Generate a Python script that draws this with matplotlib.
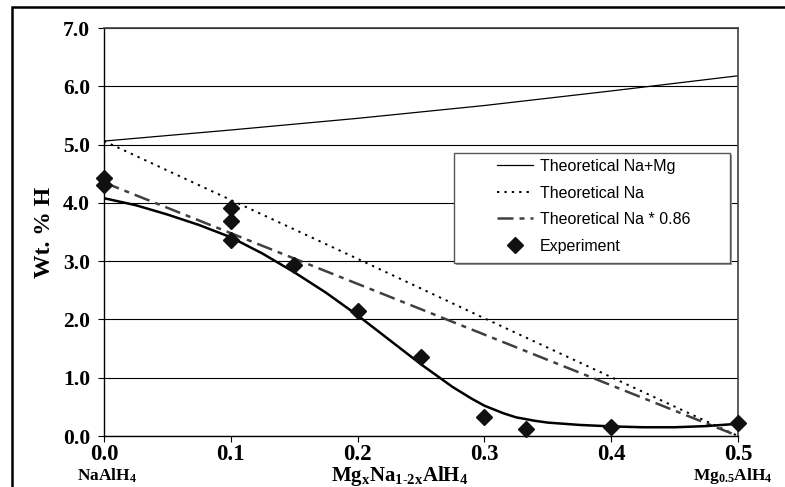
import matplotlib
matplotlib.use('Agg')
import matplotlib.pyplot as plt
from matplotlib.patches import Rectangle

plt.rcParams['mathtext.fontset'] = 'custom'
plt.rcParams['mathtext.bf'] = 'Liberation Serif:bold'
plt.rcParams['mathtext.rm'] = 'Liberation Serif:bold'

# x in Mg_xNa_(1-2x)AlH4
theo_x = [0.0, 0.1, 0.2, 0.3, 0.4, 0.5]
theo_namg = [5.06, 5.25, 5.45, 5.67, 5.92, 6.18]
theo_na = [5.06, 4.05, 3.04, 2.02, 1.01, 0.0]
theo_na86 = [4.35, 3.48, 2.61, 1.74, 0.87, 0.0]

exp_x = [0.0, 0.0, 0.1, 0.1, 0.1, 0.15, 0.2, 0.25, 0.3, 0.333, 0.4, 0.5]
exp_y = [4.42, 4.30, 3.92, 3.69, 3.36, 2.93, 2.14, 1.36, 0.32, 0.12, 0.16, 0.22]

# smooth trend through the experiment points
fit_x = [0.0, 0.025, 0.05, 0.075, 0.1, 0.125, 0.15, 0.175, 0.2, 0.225, 0.25,
         0.275, 0.29, 0.3, 0.315, 0.325, 0.34, 0.35, 0.375, 0.4, 0.425, 0.45,
         0.475, 0.5]
fit_y = [4.08, 3.96, 3.80, 3.62, 3.41, 3.13, 2.81, 2.46, 2.07, 1.65, 1.23,
         0.84, 0.64, 0.52, 0.39, 0.32, 0.26, 0.23, 0.19, 0.165, 0.15, 0.15,
         0.17, 0.21]

x_ticks = [0.0, 0.1, 0.2, 0.3, 0.4, 0.5]
y_ticks = [0.0, 1.0, 2.0, 3.0, 4.0, 5.0, 6.0, 7.0]

W, H = 785, 487
fig = plt.figure(figsize=(W / 100, H / 100), dpi=100)
ax = fig.add_axes([104 / W, 1 - 436 / H, (738 - 104) / W, (436 - 28) / H])

ax.plot(theo_x, theo_namg, color='black', lw=0.9, label='Theoretical Na+Mg')
ax.plot(theo_x, theo_na, color='black', lw=1.4, linestyle=(0, (1.2, 2.6)),
        label='Theoretical Na')
ax.plot(theo_x, theo_na86, color='#404040', lw=1.8,
        linestyle=(0, (6.4, 2.4, 2, 2.4)), label='Theoretical Na * 0.86')
ax.plot(fit_x, fit_y, color='black', lw=1.8, label='_nolegend_')
ax.plot(exp_x, exp_y, linestyle='none', marker='D', ms=8, color='#111111',
        label='Experiment', clip_on=False, zorder=5)

ax.set_xlim(0, 0.5)
ax.set_ylim(0, 7)
ax.set_xticks(x_ticks)
ax.set_yticks(y_ticks)
ax.set_xticklabels([f'{v:.1f}' for v in x_ticks])
ax.set_yticklabels([f'{v:.1f}' for v in y_ticks])
ax.yaxis.grid(True, color='black', lw=0.8)
ax.set_axisbelow(True)
ax.tick_params(direction='out', length=4, width=0.8, colors='black')
ax.tick_params(axis='y', pad=6)
ax.tick_params(axis='x', pad=2)
for lab in ax.get_yticklabels():
    lab.set_fontfamily('Liberation Serif')
    lab.set_fontweight('bold')
    lab.set_fontsize(15.5)
for lab in ax.get_xticklabels():
    lab.set_fontfamily('Liberation Serif')
    lab.set_fontweight('bold')
    lab.set_fontsize(16.5)

for s in ['left', 'bottom']:
    ax.spines[s].set_color('black')
    ax.spines[s].set_linewidth(1.0)
for s in ['top', 'right']:
    ax.spines[s].set_color('#404040')
    ax.spines[s].set_linewidth(1.2)

ax.set_ylabel('Wt. % H', fontfamily='Liberation Serif', fontweight='bold',
              fontsize=17, labelpad=6)

# legend with an Excel-like box
box_l, box_r, box_t, box_b = 454, 730, 153, 263
shadow = Rectangle(((box_l + 2) / W, 1 - (box_b + 2) / H),
                   (box_r - box_l) / W, (box_b - box_t) / H,
                   transform=fig.transFigure, facecolor='#9a9a9a',
                   edgecolor='none', zorder=7, clip_on=False)
box = Rectangle((box_l / W, 1 - box_b / H),
                (box_r - box_l) / W, (box_b - box_t) / H,
                transform=fig.transFigure, facecolor='white',
                edgecolor='#555555', lw=1.0, zorder=8, clip_on=False)
ax.add_patch(shadow)
ax.add_patch(box)
leg = ax.legend(frameon=False, loc='upper left',
                bbox_to_anchor=(497 / W, 1 - 159 / H),
                bbox_transform=fig.transFigure, borderpad=0, borderaxespad=0,
                handlelength=2.25, handletextpad=0.45, labelspacing=0.72,
                prop={'family': 'Liberation Sans', 'size': 11.5})
leg.set_zorder(10)

# composition labels under the axis
fig.text(107 / W, 1 - 476 / H, r'$\mathbf{NaAlH_4}$', ha='center', va='center',
         fontsize=12.5)
fig.text(400 / W, 1 - 476 / H, r'$\mathbf{Mg_xNa_{1\text{-}2x}AlH_4}$',
         ha='center', va='center', fontsize=15)
fig.text(733 / W, 1 - 476 / H, r'$\mathbf{Mg_{0.5}AlH_4}$', ha='center',
         va='center', fontsize=12.5)

# outer frame of the original figure
fig.patches.append(Rectangle((12 / W, -0.1), 1.2, 1 - 6.5 / H + 0.1,
                             transform=fig.transFigure, fill=False,
                             edgecolor='black', lw=1.8))

fig.savefig('out.png', dpi=100)
